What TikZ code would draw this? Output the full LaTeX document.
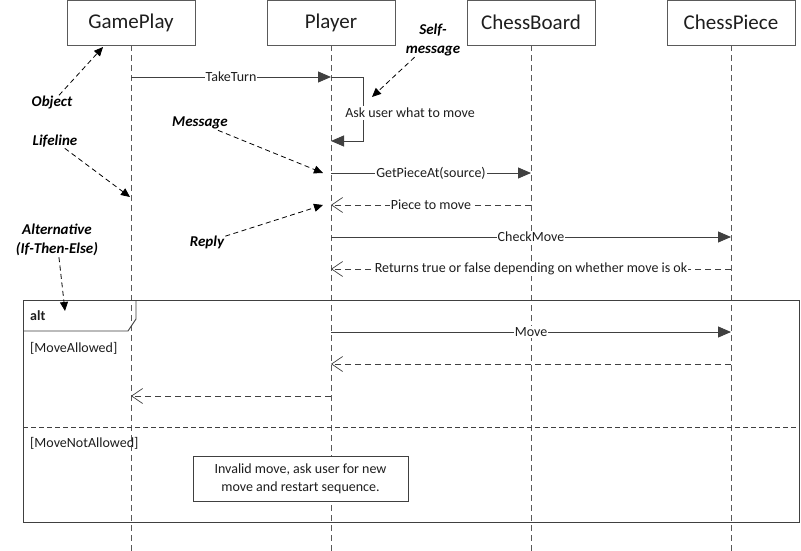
\documentclass[tikz,border=0pt]{standalone}
\usepackage{fontspec}
\setmainfont{Carlito}
\usetikzlibrary{arrows.meta}
\definecolor{ln}{RGB}{64,64,64}
\definecolor{lf}{RGB}{90,90,90}
\definecolor{tx}{RGB}{30,30,30}
\begin{document}
\begin{tikzpicture}[x=1pt,y=-1pt,
  head/.style={draw=lf,line width=0.9pt,minimum width=128pt,minimum height=45pt,inner sep=0pt,font=\fontsize{21}{24}\selectfont,text=tx},
  lifeline/.style={draw=lf,line width=0.9pt,dash pattern=on 6pt off 4pt},
  call/.style={draw=ln,line width=0.9pt,-{Triangle[length=13pt,width=11pt]}},
  reply/.style={draw=ln,line width=0.9pt,dash pattern=on 6pt off 4pt,-{Straight Barb[length=11pt,width=15pt,line width=0.7pt]}},
  lbl/.style={fill=white,inner sep=1pt,font=\fontsize{14}{16}\selectfont,text=tx},
  anno/.style={font=\fontsize{15}{19}\selectfont\bfseries\itshape,text=black,inner sep=1pt,align=center},
  annoarrow/.style={draw=black,line width=0.8pt,dash pattern=on 5pt off 3.5pt,-{Triangle[length=9pt,width=8pt]}},
  small/.style={font=\fontsize{14}{16}\selectfont,text=tx}
]
\useasboundingbox (0,0) rectangle (801,551);
\fill[white] (0,0) rectangle (801,551);

% heads
\node[head] (gp) at (131,22.5) {GamePlay};
\node[head] (pl) at (331,22.5) {Player};
\node[head] (cb) at (531,22.5) {ChessBoard};
\node[head] (cp) at (731,22.5) {ChessPiece};

% lifeline ends
\coordinate (gpe) at (131,551);
\coordinate (ple) at (331,551);
\coordinate (cbe) at (531,551);
\coordinate (cpe) at (731,551);
\draw[lifeline] (gp.south) -- (gpe);
\draw[lifeline] (pl.south) -- (ple);
\draw[lifeline] (cb.south) -- (cbe);
\draw[lifeline] (cp.south) -- (cpe);

% message anchor points
\coordinate (gp1) at (131,77);   \coordinate (pl1) at (331,77);
\coordinate (s1) at (363,77);    \coordinate (s2) at (363,141);
\coordinate (pl2) at (331,141);
\coordinate (pl3) at (331,173);  \coordinate (cb3) at (531,173);
\coordinate (pl4) at (331,205);  \coordinate (cb4) at (531,205);
\coordinate (pl5) at (331,237);  \coordinate (cp5) at (731,237);
\coordinate (pl6) at (331,269);  \coordinate (cp6) at (731,269);
\coordinate (pl7) at (331,332);  \coordinate (cp7) at (731,332);
\coordinate (pl8) at (331,364);  \coordinate (cp8) at (731,364);
\coordinate (gp9) at (131,396);  \coordinate (pl9) at (331,396);

% messages
\draw[call] (gp1) -- node[lbl] {TakeTurn} (pl1);
\draw[call] (pl1) -- (s1) -- (s2) -- (pl2);
\node[lbl,inner sep=2pt] (ask) at (410,113) {Ask user what to move};
\draw[call] (pl3) -- node[lbl] {GetPieceAt(source)} (cb3);
\draw[reply] (cb4) -- node[lbl] {Piece to move} (pl4);
\draw[call] (pl5) -- node[lbl] {CheckMove} (cp5);
\draw[reply] (cp6) -- node[lbl] {Returns true or false depending on whether move is ok} (pl6);

% alt frame
\draw[ln,line width=0.9pt] (23,300) rectangle (799.5,522);
\draw[ln,line width=0.9pt] (23,331) -- (128,331) -- (136,319) -- (136,300);
\node[anchor=west,font=\fontsize{14}{16}\selectfont\bfseries,text=tx,inner sep=0pt] (alt) at (30,316) {alt};
\node[small,anchor=west,inner sep=0pt] (g1) at (30,348) {[MoveAllowed]};
\draw[ln,line width=1pt,dash pattern=on 5pt off 3pt] (23,427) -- (799.5,427);
\node[small,anchor=west,inner sep=0pt] (g2) at (30,443) {[MoveNotAllowed]};

\draw[call] (pl7) -- node[lbl] {Move} (cp7);
\draw[reply] (cp8) -- (pl8);
\draw[reply] (pl9) -- (gp9);

% note
\node[draw=ln,line width=0.9pt,fill=white,minimum width=215pt,minimum height=45pt,align=center,small,font=\fontsize{14}{18}\selectfont] (note) at (300.5,478.5) {Invalid move, ask user for new\\move and restart sequence.};

% annotations
\node[anno] (aobj) at (52,103) {Object};
\node[anno] (alife) at (55,141) {Lifeline};
\node[anno] (amsg) at (200,123) {Message};
\node[anno] (arep) at (207,242) {Reply};
\node[anno] (aself) at (433,40) {Self-\\message};
\node[anno] (aalt) at (57,240) {Alternative\\(If-Then-Else)};

\coordinate (tobj) at (103,47);
\coordinate (tlife) at (130,197);
\coordinate (tmsg) at (323,173);
\coordinate (trep) at (323,205);
\coordinate (tself) at (372,97);
\coordinate (talt) at (65,311);

\draw[annoarrow] (aobj) -- (tobj);
\draw[annoarrow] (alife) -- (tlife);
\draw[annoarrow] (amsg) -- (tmsg);
\draw[annoarrow] (arep) -- (trep);
\draw[annoarrow] (aself) -- (tself);
\draw[annoarrow] (aalt) -- (talt);
\end{tikzpicture}
\end{document}
